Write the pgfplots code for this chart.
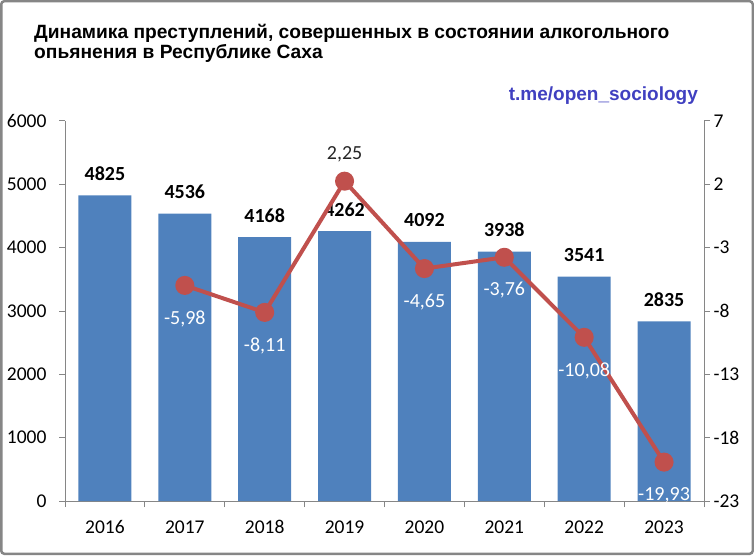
\documentclass[border=0pt]{standalone}
\usepackage{pgfplots}
\pgfplotsset{compat=1.18}
\usepackage{fontspec}
\setmainfont{Carlito}
\newfontfamily\arialfont{Liberation Sans}
\definecolor{barblue}{RGB}{79,129,189}
\definecolor{linered}{RGB}{192,80,77}
\definecolor{axgray}{RGB}{134,134,134}
\definecolor{tmeblue}{RGB}{64,64,192}
\begin{document}
\begin{tikzpicture}[x=1pt,y=1pt]
\path[use as bounding box] (0,0) rectangle (754,555);
\draw[axgray, line width=2.5pt, rounded corners=3pt] (1.25,1.25) rectangle (752.75,553.75);
\node[anchor=base west, inner sep=0pt, font=\arialfont\bfseries\fontsize{19.2}{22}\selectfont] at (34,516) {Динамика преступлений, совершенных в состоянии алкогольного};
\node[anchor=base west, inner sep=0pt, font=\arialfont\bfseries\fontsize{19.2}{22}\selectfont] at (34,496) {опьянения в Республике Саха};
\node[anchor=base east, inner sep=0pt, text=tmeblue, font=\arialfont\bfseries\fontsize{19}{22}\selectfont] at (698,454) {t.me/open\_sociology};

\begin{axis}[
  at={(65pt,54pt)}, anchor=south west, scale only axis,
  width=639pt, height=380pt,
  xmin=-0.5, xmax=7.5, ymin=0, ymax=6000,
  axis y line*=left, axis x line*=bottom,
  axis line style={axgray, line width=1pt, -},
  tick align=outside, major tick length=6pt,
  every tick/.style={axgray, line width=1pt},
  ytick={0,1000,...,6000},
  yticklabel style={font=\fontsize{19.5}{22}\selectfont, text=black, xshift=-9pt},
  /pgf/number format/1000 sep={},
  /pgf/number format/assume math mode=true,
  xtick={-0.5,0.5,...,7.5}, xticklabels={},
  extra x ticks={0,1,...,7},
  extra x tick labels={2016,2017,2018,2019,2020,2021,2022,2023},
  extra x tick style={major tick length=0pt, xticklabel style={font=\fontsize{19.5}{22}\selectfont, text=black, yshift=-16pt}},
  ]
\addplot[ybar, bar width=53pt, fill=barblue, draw=none,
  nodes near coords,
  nodes near coords style={anchor=base, inner sep=0pt, yshift=15pt, text=black, font=\bfseries\fontsize{20}{24}\selectfont, /pgf/number format/assume math mode=true, /pgf/number format/1000 sep={}},
  ] coordinates {(0,4825) (1,4536) (2,4168) (3,4262) (4,4092) (5,3938) (6,3541) (7,2835)};
\end{axis}

\begin{axis}[
  at={(65pt,54pt)}, anchor=south west, scale only axis,
  width=639pt, height=380pt,
  xmin=-0.5, xmax=7.5, ymin=-23, ymax=7,
  axis y line*=right, axis x line=none,
  axis line style={axgray, line width=1pt, -},
  tick align=outside, major tick length=6pt,
  every tick/.style={axgray, line width=1pt},
  ytick={-23,-18,-13,-8,-3,2,7},
  yticklabel style={font=\fontsize{19.5}{22}\selectfont, text=black},
  /pgf/number format/assume math mode=true,
  ]
\addplot[linered, line width=4pt, mark=*, mark size=7.5pt,
  mark options={fill=linered, draw=none},
  nodes near coords, point meta=explicit symbolic,
  nodes near coords style={anchor=north, inner sep=0pt, yshift=-23pt, text=white, font=\fontsize{20}{24}\selectfont},
  ] coordinates {(1,-5.98) [-5,98] (2,-8.11) [-8,11] (3,2.25) [] (4,-4.65) [-4,65] (5,-3.76) [-3,76] (6,-10.08) [-10,08] (7,-19.93) [-19,93]};
\addplot[draw=none, mark=none,
  nodes near coords, point meta=explicit symbolic,
  nodes near coords style={anchor=base, inner sep=0pt, yshift=22pt, text=black!85, font=\fontsize{20}{24}\selectfont},
  ] coordinates {(3,2.25) [2,25]};
\end{axis}
\end{tikzpicture}
\end{document}
